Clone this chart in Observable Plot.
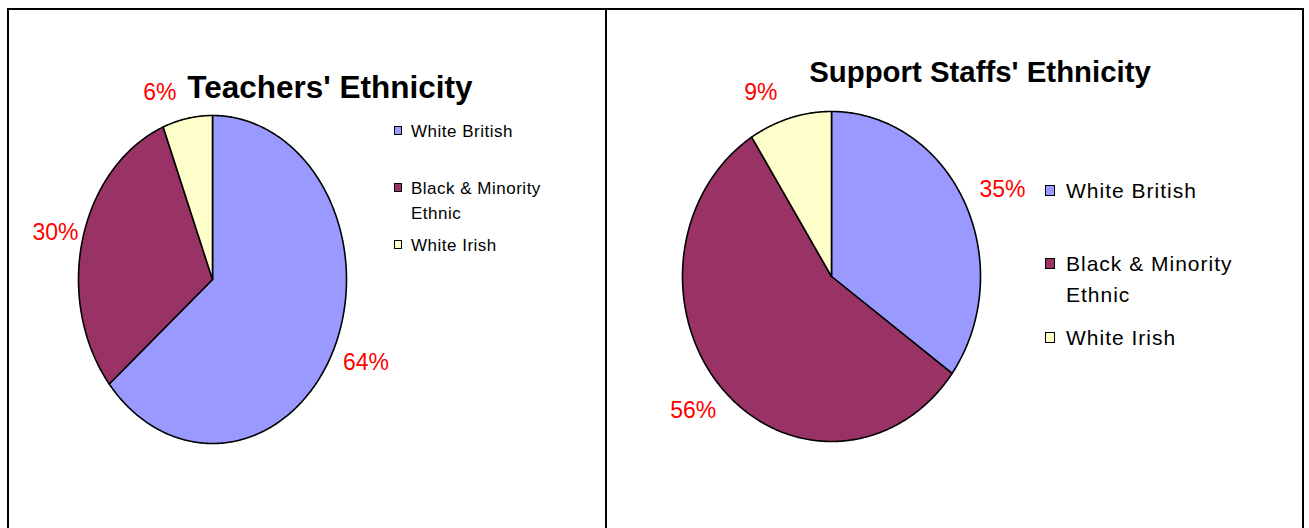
<!DOCTYPE html>
<html><head><meta charset="utf-8">
<script src="https://cdn.jsdelivr.net/npm/d3@7"></script>
<script src="https://cdn.jsdelivr.net/npm/@observablehq/plot@0.6"></script>
<style>
body{margin:0;background:#fff;font-family:"Liberation Sans",Arial,sans-serif;}
#root{position:relative;width:1309px;height:528px;overflow:hidden;background:#fff;}
.rule{position:absolute;background:#000;}
.abs{position:absolute;white-space:nowrap;color:#000;}
svg{position:absolute;top:0;}
</style></head><body><div id="root"></div>
<script>
// ---- data ----
const categories = ["White British", "Black & Minority Ethnic", "White Irish"];
const legendLines = [["White British"], ["Black & Minority", "Ethnic"], ["White Irish"]];
const colors = ["#9999FF", "#993366", "#FFFFCC"];
const teachersValues = [64, 30, 6];
const supportValues = [35, 56, 9];
const titles = ["Teachers' Ethnicity", "Support Staffs' Ethnicity"];

// ---- layout ----
const panels = [
  {values: teachersValues, title: titles[0], left: 0, width: 606, cx: 212, cy: 279, rx: 134, ry: 164, areaLeft: 30,
   tfs: 31.5, tcx: 330, tbase: 99,
   lg: {sqX: 394, sqW: 8, sqH: 9, textX: 411, fs: 17, lh: 25, ls: 0.5, base: [137, 194, 251]}},
  {values: supportValues, title: titles[1], left: 606, width: 703, cx: 831, cy: 276, rx: 149, ry: 165, areaLeft: 626,
   tfs: 29.4, tcx: 980, tbase: 82,
   lg: {sqX: 1045, sqW: 10, sqH: 11, textX: 1066, fs: 21, lh: 31, ls: 1, base: [198, 271, 345]}}
];

const root = document.getElementById("root");

panels.forEach(p => {
  const arcs = d3.pie().sort(null)(p.values);
  const pts = [];
  const labels = [];
  arcs.forEach((a, i) => {
    const k = categories[i];
    pts.push({k, x: 0, y: 0});
    const n = Math.max(2, Math.ceil((a.endAngle - a.startAngle) / (Math.PI / 360)));
    for (let j = 0; j <= n; j++) {
      const t = a.startAngle + (a.endAngle - a.startAngle) * j / n;
      pts.push({k, x: Math.sin(t), y: Math.cos(t)});
    }
    // outside-end label placement (pixels relative to centre, y up)
    const m = (a.startAngle + a.endAngle) / 2;
    const s = Math.sin(m), c = Math.cos(m);
    let px = s * p.rx * 1.1 + Math.sign(s) * 25 * (1 - 0.5 * Math.max(0, -c) * Math.abs(s));
    const py = c * (p.ry * 1.1 + (c > 0 ? 10 : 15));
    const minX = (p.areaLeft - p.cx) + 25;
    if (px < minX) px = minX;
    labels.push({x: px / p.rx, y: py / p.ry, text: Math.round(p.values[i]) + "%"});
  });

  const lx = p.cx - p.left;
  const chart = Plot.plot({
    width: p.width, height: 528, margin: 0,
    x: {domain: [-1, 1], range: [lx - p.rx, lx + p.rx], axis: null},
    y: {domain: [-1, 1], range: [p.cy + p.ry, p.cy - p.ry], axis: null},
    color: {domain: categories, range: colors},
    style: {fontFamily: '"Liberation Sans", Arial, sans-serif', background: "transparent", overflow: "visible"},
    marks: [
      Plot.line(pts, {x: "x", y: "y", z: "k", fill: "k", stroke: "#000", strokeWidth: 1.6, curve: "linear-closed", strokeLinejoin: "round"}),
      Plot.text(labels, {x: "x", y: "y", text: "text", fill: "#FF0000", fontSize: 23, textAnchor: "middle", lineAnchor: "middle"})
    ]
  });
  chart.style.left = p.left + "px";
  root.appendChild(chart);

  // title
  const t = document.createElement("div");
  t.className = "abs";
  t.textContent = p.title;
  Object.assign(t.style, {fontSize: p.tfs + "px", fontWeight: "bold", lineHeight: p.tfs + "px",
    top: (p.tbase - 0.8465 * p.tfs) + "px", left: p.tcx + "px", transform: "translateX(-50%)"});
  root.appendChild(t);

  // legend
  const g = p.lg;
  const firstBase = (g.lh - 1.117 * g.fs) / 2 + 0.905 * g.fs;
  legendLines.forEach((lines, i) => {
    const d = document.createElement("div");
    d.className = "abs";
    Object.assign(d.style, {fontSize: g.fs + "px", lineHeight: g.lh + "px", letterSpacing: g.ls + "px",
      top: (g.base[i] - firstBase) + "px", left: g.textX + "px"});
    d.innerHTML = lines.map(l => l.replace(/&/g, "&amp;")).join("<br>");
    root.appendChild(d);
    const sq = document.createElement("div");
    sq.className = "abs";
    Object.assign(sq.style, {width: g.sqW + "px", height: g.sqH + "px", background: colors[i], border: "1.5px solid #000",
      boxSizing: "border-box", left: g.sqX + "px", top: (g.base[i] - g.fs * 0.36 - g.sqH / 2) + "px"});
    root.appendChild(sq);
  });
});

// table borders
[[7, 8, 1297, 2], [7, 8, 2, 520], [605, 8, 2, 520], [1302, 8, 2, 520]].forEach(([x, y, w, h]) => {
  const r = document.createElement("div");
  r.className = "rule";
  Object.assign(r.style, {left: x + "px", top: y + "px", width: w + "px", height: h + "px"});
  root.appendChild(r);
});
</script></body></html>
